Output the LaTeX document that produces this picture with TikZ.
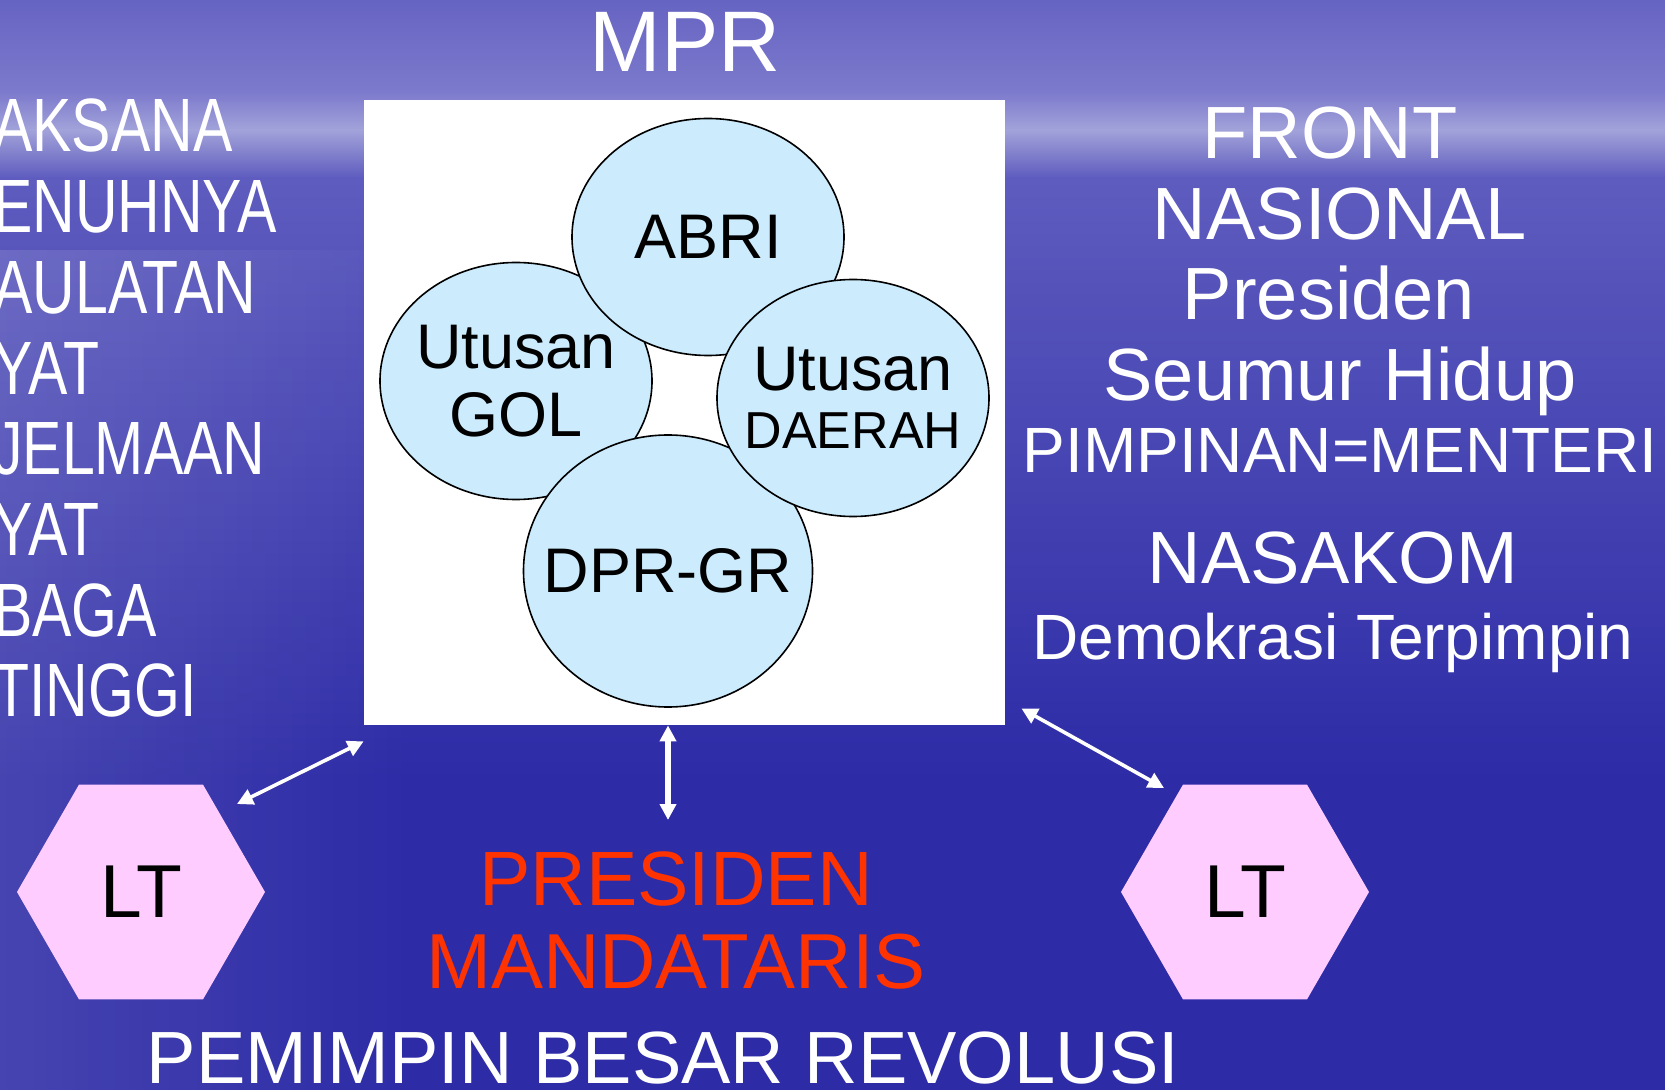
\documentclass[tikz,border=0pt]{standalone}
\usepackage{fontspec}
\setmainfont{Liberation Sans}
\usetikzlibrary{shapes.geometric,arrows.meta,fadings}
\definecolor{seatop}{HTML}{6664C2}
\definecolor{seahaze}{HTML}{7C7ACC}
\definecolor{seaband}{HTML}{A2A2DA}
\definecolor{seamid}{HTML}{5E5CBE}
\definecolor{seabot}{HTML}{2D2BA6}
\definecolor{bubblefill}{HTML}{CCEBFC}
\definecolor{hexfill}{HTML}{FFCCFF}
\definecolor{presred}{HTML}{FF3300}

\begin{document}
\begin{tikzpicture}[x=0.5pt, y=-0.5pt,
  bubble/.style={ellipse, draw=black, line width=0.8pt, fill=bubblefill, inner sep=0pt,
    minimum width=136pt, minimum height=118.5pt},
  every label/.append style={align=center, inner sep=0pt, font=\fontsize{31.5}{34}\selectfont},
  hexbox/.style={regular polygon, regular polygon sides=6, minimum size=124pt, inner sep=0pt,
    fill=hexfill, font=\fontsize{37.5}{40}\selectfont},
  slide/.style={white, anchor=base, inner sep=0pt},
  dbl/.style={white, line width=1.8pt, {Triangle[length=8pt,width=8pt]}-{Triangle[length=8pt,width=8pt]}}]
  \useasboundingbox (0,0) rectangle (1665,1090);
  \fill[seabot] (0,0) rectangle (1665,1090);
  \shade[top color=seatop, bottom color=seahaze] (0,0) rectangle (1665,92);
  \shade[top color=seahaze, bottom color=seaband] (0,92) rectangle (1665,130);
  \shade[top color=seaband, bottom color=seamid] (0,130) rectangle (1665,178);
  \shade[top color=seamid, bottom color=seabot] (0,178) rectangle (1665,780);
  \fill[white, opacity=0.12, path fading=east] (0,250) rectangle (420,1090);

  \node[fill=white, minimum width=320.5pt, minimum height=312.5pt, inner sep=0pt] (box) at (684.5,412.5) {};
  \node[bubble, label=center:{Utusan\\GOL}] (gol) at (516,381) {};
  \node[bubble, label=center:ABRI] (abri) at (708,237) {};
  \node[bubble, minimum width=144.5pt, minimum height=136pt, label=center:DPR-GR] (dpr) at (668,571) {};
  \node[bubble, label=center:{Utusan\\[-5pt]{\fontsize{26}{29}\selectfont DAERAH}}] (daerah) at (853,398) {};

  \node[hexbox] (ltl) at (141,892) {LT};
  \node[hexbox] (ltr) at (1245,892) {LT};

  \node[slide, font=\fontsize{43}{46}\selectfont] (mpr) at (685,72) {MPR};
  \foreach \w [count=\i] in {AKSANA,ENUHNYA,AULATAN,YAT,JELMAAN,YAT,BAGA,TINGGI}
    \node[slide, anchor=base west, xscale=0.78, transform shape, font=\fontsize{37.8}{40}\selectfont]
      (left\i) at (-7,{152+80.7*(\i-1)}) {\w};

  \node[slide, font=\fontsize{37}{40}\selectfont] (front) at (1330,159) {FRONT};
  \node[slide, font=\fontsize{37}{40}\selectfont] (nasional) at (1340,240) {NASIONAL};
  \node[slide, font=\fontsize{37}{40}\selectfont] (presiden) at (1329,320) {Presiden};
  \node[slide, font=\fontsize{37}{40}\selectfont] (seumur) at (1340,401) {Seumur Hidup};
  \node[slide, font=\fontsize{32}{35}\selectfont] (pimpinan) at (1340,473) {PIMPINAN=MENTERI};
  \node[slide, font=\fontsize{37}{40}\selectfont] (nasakom) at (1333,584) {NASAKOM};
  \node[slide, font=\fontsize{32}{35}\selectfont] (demokrasi) at (1333,660) {Demokrasi Terpimpin};

  \node[slide, text=presred, font=\fontsize{38.5}{41}\selectfont] (pres) at (676,905) {PRESIDEN};
  \node[slide, text=presred, font=\fontsize{39}{41}\selectfont] (mandat) at (676,988) {MANDATARIS};
  \node[slide, font=\fontsize{37}{40}\selectfont] (pbr) at (663,1083) {PEMIMPIN BESAR REVOLUSI};

  \coordinate (ltlend) at (237,804);
  \coordinate (ltrend) at (1164,788);
  \coordinate (presend) at (668,820);
  \draw[dbl] (ltlend) -- ([yshift=-8pt]box.south west);
  \draw[dbl, line width=2.7pt] (dpr |- box.south) -- (presend);
  \draw[dbl] ([shift={(8pt,8.5pt)}]box.south east) -- (ltrend);
\end{tikzpicture}
\end{document}
